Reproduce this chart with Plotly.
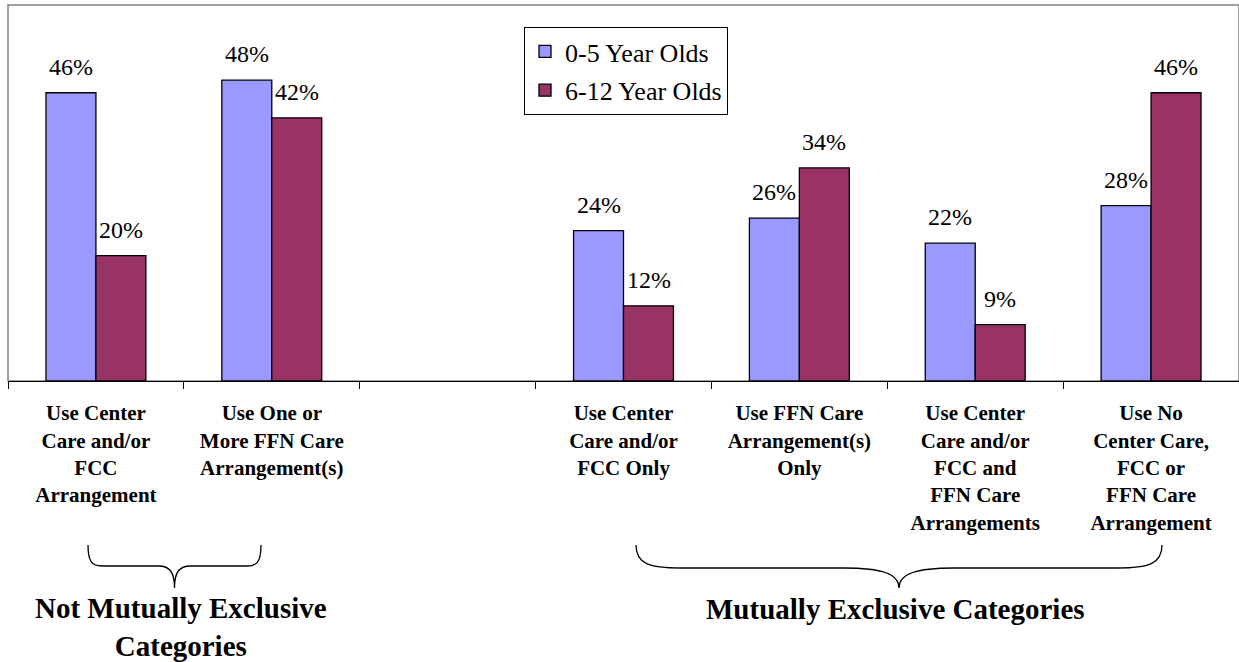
import plotly.graph_objects as go

# --- data -------------------------------------------------------------
categories = [
    "Use Center<br>Care and/or<br>FCC<br>Arrangement",
    "Use One or<br>More FFN Care<br>Arrangement(s)",
    " ",
    "Use Center<br>Care and/or<br>FCC Only",
    "Use FFN Care<br>Arrangement(s)<br>Only",
    "Use Center<br>Care and/or<br>FCC and<br>FFN Care<br>Arrangements",
    "Use No<br>Center Care,<br>FCC or<br>FFN Care<br>Arrangement",
]
ages_0_5 = [46, 48, None, 24, 26, 22, 28]
ages_6_12 = [20, 42, None, 12, 34, 9, 46]
series_names = ["0-5 Year Olds", "6-12 Year Olds"]
series_colors = ["#9999FF", "#993366"]
group_titles = ["Not Mutually Exclusive<br>Categories", "Mutually Exclusive Categories"]

# --- layout geometry (pixels) -----------------------------------------
W, H = 1239, 662
PL, PR, PT, PB = 8, 1239, 5, 381
FONT = "Liberation Serif"


def paper(px, py):
    """Convert page pixels to paper coordinates."""
    return (px - PL) / (PR - PL), (PB - py) / (PB - PT)


def bold_lines(text):
    return "<br>".join(f"<b>{t}</b>" for t in text.split("<br>"))


fig = go.Figure()
for name, vals, col in zip(series_names, [ages_0_5, ages_6_12], series_colors):
    fig.add_trace(go.Bar(
        x=categories, y=vals, name=name, legendgroup=name,
        marker=dict(color=col, line=dict(color="black", width=1.3)),
    ))

# value labels above bars
half_bar = 25
for vals, shift in [(ages_0_5, -half_bar), (ages_6_12, half_bar)]:
    for c, v in zip(categories, vals):
        if v is None:
            continue
        fig.add_annotation(
            x=c, y=v, text=f"{v}%", showarrow=False, xshift=shift,
            yanchor="bottom", yshift=11,
            font=dict(family=FONT, size=24, color="black"),
        )

# plot frame (top and left in grey)
fig.add_shape(type="rect", xref="paper", yref="paper", x0=0, y0=0, x1=1, y1=1,
              line=dict(color="#808080", width=1.5), layer="below")


def brace(x0, x1, ytop, ymid, ytip, r_end, r_mid):
    xc = (x0 + x1) / 2

    def p(x, y):
        a, b = paper(x, y)
        return f"{a:.5f},{b:.5f}"
    d = (f"M{p(x0, ytop)} C{p(x0, ymid - 4)} {p(x0 + r_end * 0.3, ymid)} {p(x0 + r_end, ymid)} "
         f"L{p(xc - r_mid, ymid)} C{p(xc - r_mid * 0.3, ymid)} {p(xc, ymid + 6)} {p(xc, ytip)} "
         f"M{p(xc, ytip)} C{p(xc, ymid + 6)} {p(xc + r_mid * 0.3, ymid)} {p(xc + r_mid, ymid)} "
         f"L{p(x1 - r_end, ymid)} C{p(x1 - r_end * 0.3, ymid)} {p(x1, ymid - 4)} {p(x1, ytop)}")
    fig.add_shape(type="path", xref="paper", yref="paper", path=d,
                  line=dict(color="black", width=1.3))


brace(88, 261, 545, 566, 588, 14, 16)
brace(636, 1162, 545, 568, 588, 45, 55)

fig.add_annotation(xref="paper", yref="paper", x=paper(181, 0)[0], y=paper(0, 627)[1],
                   text=bold_lines(group_titles[0]), showarrow=False,
                   xanchor="center", yanchor="middle",
                   font=dict(family=FONT, size=29, color="black"))
fig.add_annotation(xref="paper", yref="paper", x=paper(895, 0)[0], y=paper(0, 609)[1],
                   text=bold_lines(group_titles[1]), showarrow=False,
                   xanchor="center", yanchor="middle",
                   font=dict(family=FONT, size=29, color="black"))

fig.update_layout(
    width=W, height=H,
    margin=dict(l=PL, r=W - PR, t=PT, b=H - PB, autoexpand=False),
    paper_bgcolor="white", plot_bgcolor="white",
    barmode="group", bargap=0.432, bargroupgap=0,
    font=dict(family=FONT, color="black"),
    legend=dict(
        x=paper(524, 0)[0], y=paper(0, 27)[1], xanchor="left", yanchor="top",
        bordercolor="black", borderwidth=1, bgcolor="white",
        font=dict(family=FONT, size=26, color="black"),
        traceorder="grouped", tracegroupgap=2,
    ),
    xaxis=dict(
        type="category", categoryorder="array", categoryarray=categories,
        tickvals=categories, ticktext=[bold_lines(c) if c.strip() else "" for c in categories],
        showline=True, linecolor="black", linewidth=1.3,
        ticks="outside", tickson="boundaries", ticklen=7, tickcolor="black", tickwidth=1.3,
        tickfont=dict(family=FONT, size=21, color="black"),
        ticklabelstandoff=13,
        showgrid=False, zeroline=False, fixedrange=True,
    ),
    yaxis=dict(
        range=[0, 60], showgrid=False, zeroline=False, showticklabels=False,
        ticks="", showline=False, fixedrange=True,
    ),
)

fig.write_html("out.html")
